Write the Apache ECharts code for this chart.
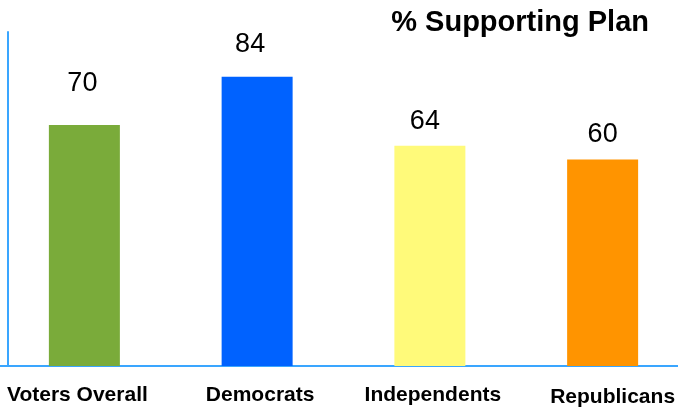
<!DOCTYPE html>
<html>
<head>
<meta charset="utf-8">
<script src="https://cdn.jsdelivr.net/npm/echarts@6/dist/echarts.min.js"></script>
<style>
html,body{margin:0;padding:0;background:#fff;}
#main{width:678px;height:407px;}
</style>
</head>
<body>
<div id="main"></div>
<script>
var categories = ['Voters Overall', 'Democrats', 'Independents', 'Republicans'];
var values = [70, 84, 64, 60];
var barColors = ['#7aab3a', '#0062ff', '#fffa7a', '#ff9400'];
// small nudges so the texts sit where they do in the original
var labelPads = [[0, 14, 0, 0], [0, 0, 0, 6], [0, 0, 0, 6], [2, 0, 0, 20]];
var valueGaps = [28, 19, 11, 11];
var valueShifts = [-2, -7, -5, 0];

var myChart = echarts.init(document.getElementById('main'));
var font = '"Liberation Sans", Arial, Helvetica, sans-serif';

var option = {
    animation: false,
    title: {
        text: '% Supporting Plan',
        right: 24,
        top: 3,
        textStyle: {fontFamily: font, fontSize: 29, fontWeight: 'bold', color: '#000'}
    },
    grid: {left: -2, width: 691, top: 32, bottom: 41, containLabel: false, outerBoundsMode: 'none'},
    xAxis: {
        type: 'category',
        data: categories.map(function (c, i) {
            return {value: c, textStyle: {padding: labelPads[i]}};
        }),
        axisLine: {show: true, lineStyle: {color: '#3aa6ff', width: 2}},
        axisTick: {show: false},
        axisLabel: {
            interval: 0,
            margin: 19,
            fontFamily: font,
            fontSize: 21,
            fontWeight: 'bold',
            color: '#000'
        }
    },
    yAxis: {
        type: 'value',
        min: 0,
        max: 97,
        offset: -10,
        axisLine: {show: true, lineStyle: {color: '#3aa6ff', width: 2}},
        axisTick: {show: false},
        axisLabel: {show: false},
        splitLine: {show: false}
    },
    series: [{
        type: 'bar',
        barWidth: 71,
        data: values.map(function (v, i) {
            return {
                value: v,
                itemStyle: {color: barColors[i]},
                label: {distance: valueGaps[i], offset: [valueShifts[i], 0]}
            };
        }),
        label: {
            show: true,
            position: 'top',
            fontFamily: font,
            fontSize: 27,
            color: '#000'
        }
    }]
};
myChart.setOption(option);
</script>
</body>
</html>
